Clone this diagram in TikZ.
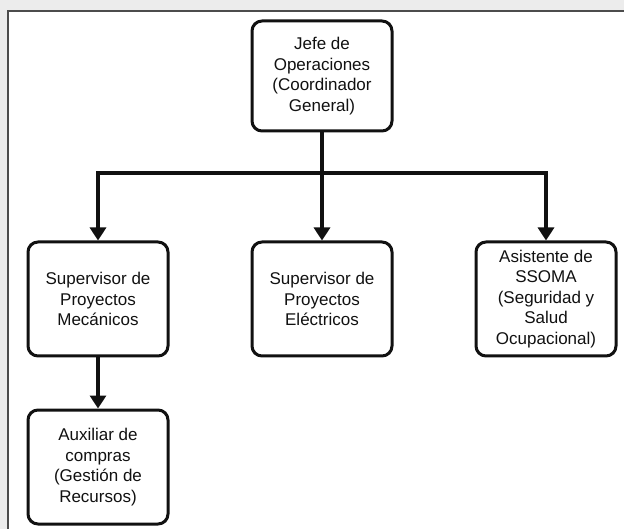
\documentclass[tikz,border=0pt]{standalone}
\usepackage{fontspec}
\setmainfont{Liberation Sans}
\usetikzlibrary{arrows.meta}
\definecolor{pagegray}{HTML}{ECECEC}
\definecolor{inkblack}{HTML}{111111}
\tikzset{
  orgbox/.style={draw=inkblack, line width=3pt, rounded corners=10pt, fill=white,
    minimum width=140pt, align=center, inner sep=4pt, text=inkblack,
    font=\fontsize{17}{20.5}\selectfont},
  conn/.style={draw=inkblack, line width=3.2pt},
  tip/.style={-{Triangle[width=16pt,length=13pt]}},
}
\begin{document}
\begin{tikzpicture}[x=1pt,y=-1pt]
  % page size, then the frame open to the right and bottom
  \useasboundingbox (0,0) rectangle (624,529);
  \clip (0,0) rectangle (624,529);
  \fill[pagegray] (0,0) rectangle (624,529);
  \fill[white] (8,11) rectangle (640,545);
  \draw[line width=1.2pt, draw=black!70] (8,545) -- (8,11) -- (640,11);

  % boxes
  \node[orgbox, minimum height=110pt] (jefe)  at (322,76)  {Jefe de\\Operaciones\\(Coordinador\\General)};
  \node[orgbox, minimum height=114pt] (mec)   at (98,299)  {Supervisor de\\Proyectos\\Mecánicos};
  \node[orgbox, minimum height=114pt] (elec)  at (322,299) {Supervisor de\\Proyectos\\Eléctricos};
  \node[orgbox, minimum height=114pt] (ssoma) at (546,299) {Asistente de\\SSOMA\\(Seguridad y\\Salud\\Ocupacional)};
  \node[orgbox, minimum height=114pt] (aux)   at (98,467)  {Auxiliar de\\compras\\(Gestión de\\Recursos)};

  % connectors
  \coordinate (bus) at (322,173);
  \draw[conn] (jefe.south) -- (bus);
  \draw[conn, tip] (bus) -| (mec.north);
  \draw[conn, tip] (bus) -| (ssoma.north);
  \draw[conn, tip] (bus) -- (elec.north);
  \draw[conn, tip] (mec.south) -- (aux.north);
\end{tikzpicture}
\end{document}
